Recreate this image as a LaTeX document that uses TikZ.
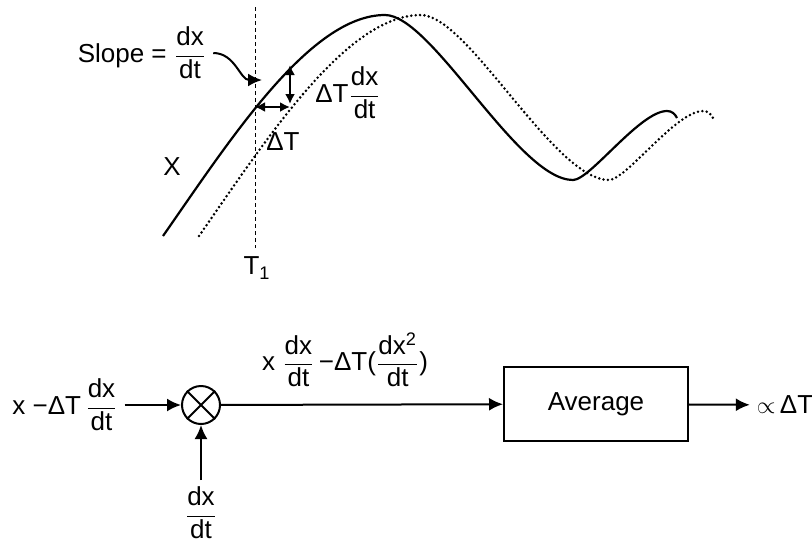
\documentclass[tikz,border=0pt]{standalone}
\usepackage{fontspec}
\usepackage{amsmath}
\usepackage{tikz}
\setmainfont{Liberation Sans}
\usetikzlibrary{arrows.meta,positioning}
\newcommand{\fr}[2]{$\dfrac{\text{#1}}{\text{#2}}$}
\newcommand{\wave}{(163,236) .. controls (230,140) and (310,15) .. (385,15)
    .. controls (432,15) and (518,180) .. (573,180)
    .. controls (590,180) and (640,111) .. (667,111)
    .. controls (672,111) and (675,114) .. (677,118)}

\begin{document}
\begin{tikzpicture}[
    x=0.5pt, y=-0.5pt,
    every node/.style={font=\fontsize{13}{15}\selectfont},
    signal/.style={line width=1.1pt},
    delayed/.style={line width=1.4pt, line cap=round, dash pattern=on 0pt off 2.2pt},
    arrow/.style={-{Latex[length=7pt,width=6.5pt]}, line width=1pt},
    twoway/.style={{Latex[length=5pt,width=5pt]}-{Latex[length=5pt,width=5pt]}, line width=1pt},
    box/.style={rectangle, draw, line width=1pt, minimum width=92pt, minimum height=37pt},
    mixer/.style={circle, draw, line width=1pt, minimum size=19pt, inner sep=0pt}
]
\useasboundingbox (0,0) rectangle (812,546);

% Curvas
\draw[signal] \wave;
\draw[delayed, shift={(36,0)}] \wave;
\coordinate (tt) at (255,7);
\coordinate (tb) at (255,248);
\draw[thin, dash pattern=on 2pt off 1.5pt] (tt) -- (tb);

% Nodos
\node (slope) at (142,53) {Slope = \fr{dx}{dt}};
\coordinate (hit) at (262,80);
\node (xlab) at (172,167) {X};
\node (tlab) at (257,268) {T\textsubscript{1}};
\coordinate (p1) at (255,107);
\coordinate (p2) at (290,107);
\coordinate (p3) at (290,65);
\coordinate (p4) at (290,104);
\node (gain) at (348,93) {ΔT\fr{dx}{dt}};
\node (dt) at (283,142) {ΔT};

\node (in) at (65,405) {x −ΔT\,\fr{dx}{dt}};
\node[mixer] (mix) at (201,405) {};
\node (dxdt) at (201,513) {\fr{dx}{dt}};
\node[box] (avg) at (596,404) {Average};
\node (out) at (785,405) {$\propto$\,ΔT};

% Flechas
\draw[arrow] (slope.east) to[out=0, in=180] (hit);
\draw[twoway] (p1) -- (p2);
\draw[twoway] (p3) -- (p4);
\draw[line width=1pt] (mix.north west) -- (mix.south east) (mix.north east) -- (mix.south west);
\draw[arrow] (in) -- (mix);
\draw[arrow] (dxdt) -- (mix);
\draw[arrow] (mix) -- node[above=5pt, pos=0.44] {x\ \fr{dx}{dt}\,−ΔT(\fr{dx\textsuperscript{2}}{dt})} (avg);
\draw[arrow] (avg) -- (out);

\end{tikzpicture}
\end{document}
